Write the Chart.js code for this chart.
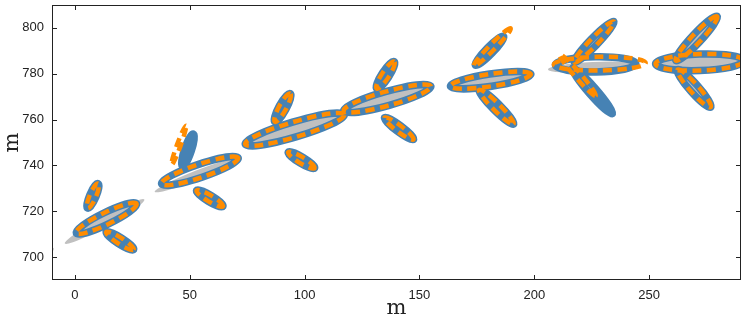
<!DOCTYPE html>
<html>
<head>
<meta charset="utf-8">
<script src="https://cdn.jsdelivr.net/npm/chart.js@4/dist/chart.umd.min.js"></script>
<style>
  html, body { margin: 0; padding: 0; background: #fff; }
  #wrap { width: 747px; height: 321px; position: relative; }
</style>
</head>
<body>
<div id="wrap"><canvas id="chart"></canvas></div>
<script>
// ── Data (metres) ──
// each ellipse: [centre x, centre y, semi-axis a, semi-axis b, angle in degrees]
const xRange = [-10, 290];
const yRange = [690, 810];
const xTicks = [0, 50, 100, 150, 200, 250];
const yTicks = [700, 720, 740, 760, 780, 800];

const grayEllipses = [
  [-13.0, 701.7,  4.3, 1.4,  30],
  [ 12.9, 715.5, 19.8, 2.2,  29], [  7.8, 726.7,  7.2, 1.5,  67], [ 18.8, 707.6,  8.6, 1.5, -32.5],
  [ 53.2, 735.8, 19.9, 2.0, 21.6], [ 49.2, 746.7,  8.5, 1.5, 71.6], [ 58.7, 725.6,  7.6, 1.4, -31],
  [ 95.7, 755.7, 23.5, 2.2,  17], [ 90.4, 765.2,  7.8, 1.6, 61.5], [ 98.6, 742.3,  7.6, 1.4, -31],
  [136.0, 769.2, 20.6, 2.2, 15.7], [135.2, 779.4,  7.8, 1.6,  57], [141.1, 756.1,  8.6, 1.4, -37],
  [181.0, 776.9, 19.2, 2.0,   8], [180.5, 790.0,  9.6, 1.5, 45.8], [183.5, 765.5, 11.3, 1.6, -45],
  [225.5, 782.9, 19.6, 2.2,   3], [226.0, 793.9, 13.2, 1.7,  46], [225.3, 772.5, 13.9, 1.7, -49],
  [272.0, 785.0, 20.0, 2.4,   2], [270.6, 795.4, 13.9, 1.9,  47], [269.6, 773.6, 11.6, 1.8, -48.5],
];

const blueEllipses = [
  [ 13.7, 716.9, 14.6, 2.6,  26], [  7.8, 726.7,  5.8, 1.4,  67], [ 19.6, 707.1,  7.1, 1.4, -32.5],
  [ 54.4, 737.6, 17.6, 2.9, 18.6], [ 49.2, 746.7,  7.4, 1.5, 71.6], [ 58.7, 725.6,  6.7, 1.4, -31],
  [ 95.7, 755.7, 22.5, 3.3, 16.6], [ 90.4, 765.2,  7.0, 1.6, 61.5], [ 98.6, 742.3,  6.7, 1.4, -31],
  [136.0, 769.2, 19.7, 3.1, 15.7], [135.2, 779.4,  7.0, 1.6,  57], [141.1, 756.1,  7.9, 1.4, -37],
  [181.0, 777.2, 17.7, 2.7,  8.6], [180.5, 790.0,  8.8, 1.5, 45.8], [183.5, 765.5, 10.6, 1.6, -45],
  [226.7, 784.1, 17.5, 3.3,   1], [226.0, 793.9, 12.4, 1.7,  46], [225.3, 772.5, 13.2, 1.7, -49],
  [272.0, 785.0, 19.2, 3.6,   2], [270.6, 795.4, 13.2, 2.0,  47], [269.6, 773.6, 10.9, 1.9, -48.5],
];

const orangeEllipses = [
  [ 13.7, 716.9, 14.6, 2.6,  26], [  7.8, 726.7,  5.8, 1.4,  67], [ 19.6, 707.1,  7.1, 1.4, -32.5],
  [ 54.4, 737.6, 17.6, 2.9, 18.6], [ 45.2, 748.8,  9.1, 0.8,  70], [ 58.7, 725.6,  6.7, 1.4, -31],
  [ 95.7, 755.7, 22.5, 3.3, 16.6], [ 90.4, 765.2,  7.0, 1.6, 61.5], [ 98.6, 742.3,  6.7, 1.4, -31],
  [136.0, 769.2, 19.7, 3.1, 15.7], [135.2, 779.4,  7.0, 1.6,  57], [141.1, 756.1,  7.9, 1.4, -37],
  [181.0, 777.2, 17.7, 2.7,  8.6], [181.7, 791.6, 11.5, 1.3, 45.7], [183.5, 765.5, 10.6, 1.6, -45],
  [228.5, 784.4, 20.0, 3.0,   1], [226.0, 793.9, 12.4, 1.7,  46], [218.9, 779.4, 12.0, 1.3, -49],
  [272.0, 785.0, 19.2, 3.6,   2], [270.6, 795.4, 13.2, 2.0,  47], [269.6, 773.6, 10.9, 1.9, -48.5],
];

// ── Ellipse path in data space, mapped through the chart scales ──
function ellipsePath(ctx, xs, ys, e) {
  const [cx, cy, a, b, ang] = e;
  const px = xs.getPixelForValue(cx);
  const py = ys.getPixelForValue(cy);
  const sx = xs.getPixelForValue(cx + 1) - px;
  const sy = py - ys.getPixelForValue(cy + 1);
  ctx.save();
  ctx.translate(px, py);
  ctx.scale(sx, -sy);
  ctx.rotate(ang * Math.PI / 180);
  ctx.beginPath();
  ctx.ellipse(0, 0, a, b, 0, 0, Math.PI * 2);
  ctx.restore();
}

const ellipsePlugin = {
  id: 'ellipses',
  beforeDatasetsDraw(chart) {
    const { ctx, chartArea: ca, scales: { x, y } } = chart;
    ctx.save();
    ctx.beginPath();
    ctx.rect(ca.left, ca.top, ca.right - ca.left, ca.bottom - ca.top);
    ctx.clip();

    ctx.fillStyle = '#c0c0c0';
    grayEllipses.forEach(e => { ellipsePath(ctx, x, y, e); ctx.fill(); });

    ctx.strokeStyle = '#4682b4';
    ctx.lineWidth = 7.5;
    blueEllipses.forEach(e => { ellipsePath(ctx, x, y, e); ctx.stroke(); });

    ctx.strokeStyle = '#ff8c00';
    ctx.lineWidth = 4.5;
    ctx.setLineDash([9, 5.5]);
    orangeEllipses.forEach(e => { ellipsePath(ctx, x, y, e); ctx.stroke(); });

    ctx.restore();
  },
};

// ── Frame with inward ticks on all four sides ──
const framePlugin = {
  id: 'frame',
  afterDraw(chart) {
    const { ctx, chartArea: ca, scales: { x, y } } = chart;
    const tl = 5;
    ctx.save();
    ctx.strokeStyle = '#222';
    ctx.lineWidth = 1;
    ctx.strokeRect(ca.left + 0.5, ca.top + 0.5, ca.right - ca.left - 1, ca.bottom - ca.top - 1);
    ctx.beginPath();
    xTicks.forEach(v => {
      const p = Math.round(x.getPixelForValue(v)) + 0.5;
      ctx.moveTo(p, ca.bottom); ctx.lineTo(p, ca.bottom - tl);
      ctx.moveTo(p, ca.top);    ctx.lineTo(p, ca.top + tl);
    });
    yTicks.forEach(v => {
      const p = Math.round(y.getPixelForValue(v)) + 0.5;
      ctx.moveTo(ca.left, p);  ctx.lineTo(ca.left + tl, p);
      ctx.moveTo(ca.right, p); ctx.lineTo(ca.right - tl, p);
    });
    ctx.stroke();
    ctx.restore();
  },
};

const tickFont  = { family: '"Liberation Sans", Arial, sans-serif', size: 13 };
const titleFont = { family: '"DejaVu Serif", serif', size: 21 };

new Chart(document.getElementById('chart'), {
  type: 'scatter',
  data: {
    datasets: [{
      data: blueEllipses.map(e => ({ x: e[0], y: e[1] })),
      pointRadius: 0,
      showLine: false,
    }],
  },
  options: {
    responsive: true, maintainAspectRatio: false,
    animation: false,
    events: [],
    layout: { padding: { top: 5, right: 6, left: 0, bottom: 0 } },
    plugins: { legend: { display: false }, tooltip: { enabled: false } },
    scales: {
      x: {
        type: 'linear', min: xRange[0], max: xRange[1],
        afterBuildTicks(s) { s.ticks = xTicks.map(v => ({ value: v })); },
        ticks: { color: '#222', font: tickFont, padding: 8, maxRotation: 0 },
        grid: { display: false, drawTicks: false },
        border: { display: false },
        title: { display: true, text: 'm', color: '#222', font: titleFont, padding: { top: -4, bottom: 0 } },
        afterFit(s) { s.height = 41; s.paddingLeft = 0; s.paddingRight = 0; },
      },
      y: {
        type: 'linear', min: yRange[0], max: yRange[1],
        afterBuildTicks(s) { s.ticks = yTicks.map(v => ({ value: v })); },
        ticks: { color: '#222', font: tickFont, padding: 8 },
        grid: { display: false, drawTicks: false },
        border: { display: false },
        title: { display: true, text: 'm', color: '#222', font: titleFont, padding: 0 },
        afterFit(s) { s.width = 52; s.paddingTop = 0; s.paddingBottom = 0; },
      },
    },
  },
  plugins: [ellipsePlugin, framePlugin],
});
</script>
</body>
</html>
